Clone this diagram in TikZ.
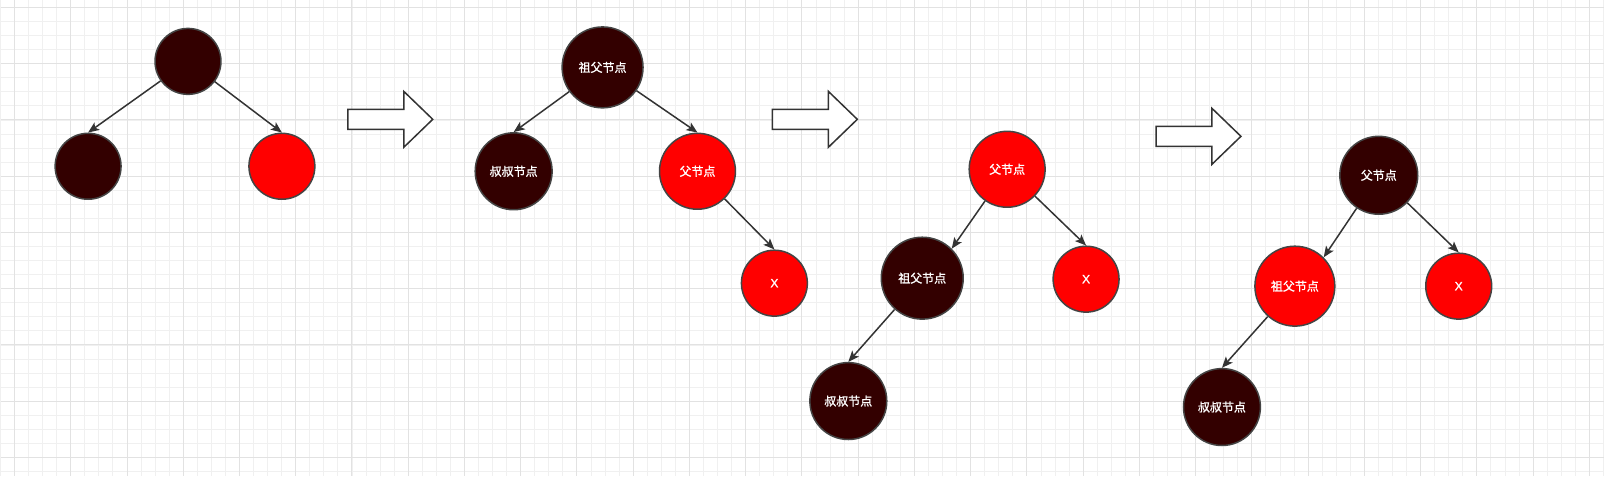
\documentclass[tikz,border=0pt]{standalone}
\usepackage{fontspec}
\setmainfont{Liberation Sans}
\newfontfamily\cjk{Noto Sans CJK SC}[FakeBold=1.2]
\newfontfamily\xfont{Liberation Sans}[FakeBold=1.2]
\usetikzlibrary{arrows.meta,positioning}
\definecolor{nodeblack}{HTML}{330000}
\definecolor{nodered}{HTML}{FF0000}
\definecolor{rimgray}{HTML}{444444}
\definecolor{edgegray}{HTML}{333333}
\definecolor{minorgrid}{HTML}{F0F0F0}
\definecolor{majorgrid}{HTML}{E2E2E2}
\newcommand\fatarrow[2]{\draw[fatarrow] (#1,#2) ++(0,-10) -- ++(56,0) -- ++(0,-18) -- ++(29,28) -- ++(-29,28) -- ++(0,-18) -- ++(-56,0) -- cycle;}
\tikzset{
    rbnode/.style={circle, draw=rimgray, line width=1.5pt, text=white, inner sep=0pt,
        font=\cjk\fontsize{12}{12}\selectfont},
    blk/.style={rbnode, fill=nodeblack},
    rd/.style={rbnode, fill=nodered},
    edge/.style={draw=edgegray, line width=1.5pt, -{Stealth[length=11pt,width=9pt,inset=2.5pt]}},
    fatarrow/.style={draw=edgegray, fill=white, line width=1.5pt, line join=miter}
}

\begin{document}
\begin{tikzpicture}[x=1pt, y=-1pt]
            % Фон и сетка
            \fill[white] (0,0) rectangle (1604,476);
            \foreach \i in {0,...,114} \draw[minorgrid, line width=0.8pt] ({-0.78+\i*14.075},0) -- ++(0,476);
            \foreach \i in {0,...,33} \draw[minorgrid, line width=0.8pt] (0,{7+\i*14.075}) -- ++(1604,0);
            \foreach \i in {0,...,28} \draw[majorgrid, line width=0.9pt] ({13.3+\i*56.3},0) -- ++(0,476);
            \foreach \i in {0,...,8} \draw[majorgrid, line width=0.9pt] (0,{7+\i*56.3}) -- ++(1604,0);
            \useasboundingbox (0,0) rectangle (1604,476);

            % Дерево 1
            \node[blk, minimum size=66pt] (root) at (187,61) {};
            \node[blk, minimum size=66pt] (left) at (87,166) {};
            \node[rd, minimum size=66pt] (right) at (281,166) {};
            \draw[edge] (root) -- (left.north);
            \draw[edge] (root) -- (right.north);

            \fatarrow{347}{119}

            % Дерево 2
            \node[blk, minimum size=81pt] (gfa) at (602,67) {祖父节点};
            \node[blk, minimum size=77pt] (uncla) at (513,171) {叔叔节点};
            \node[rd, minimum size=76pt] (para) at (697,171) {父节点};
            \node[rd, minimum size=66pt] (xa) at (774,283) {\xfont X};
            \draw[edge] (gfa) -- (uncla.north);
            \draw[edge] (gfa) -- (para.north);
            \draw[edge] (para) -- (xa.north);

            \fatarrow{772}{119}

            % Дерево 3
            \node[rd, minimum size=76pt] (parb) at (1007,169) {父节点};
            \node[blk, minimum size=82pt] (gfb) at (922,278) {祖父节点};
            \node[rd, minimum size=66pt] (xb) at (1086,279) {\xfont X};
            \node[blk, minimum size=77pt] (unclb) at (848,401) {叔叔节点};
            \draw[edge] (parb) -- (gfb.north east);
            \draw[edge] (parb) -- (xb.north);
            \draw[edge] (gfb) -- (unclb.north);

            \fatarrow{1156}{136}

            % Дерево 4
            \node[blk, minimum size=78pt] (parc) at (1379,175) {父节点};
            \node[rd, minimum size=80pt] (gfc) at (1295,286) {祖父节点};
            \node[rd, minimum size=66pt] (xc) at (1459,286) {\xfont X};
            \node[blk, minimum size=77pt] (unclc) at (1222,407) {叔叔节点};
            \draw[edge] (parc) -- (gfc.north east);
            \draw[edge] (parc) -- (xc.north);
            \draw[edge] (gfc) -- (unclc.north);
        \end{tikzpicture}
\end{document}
